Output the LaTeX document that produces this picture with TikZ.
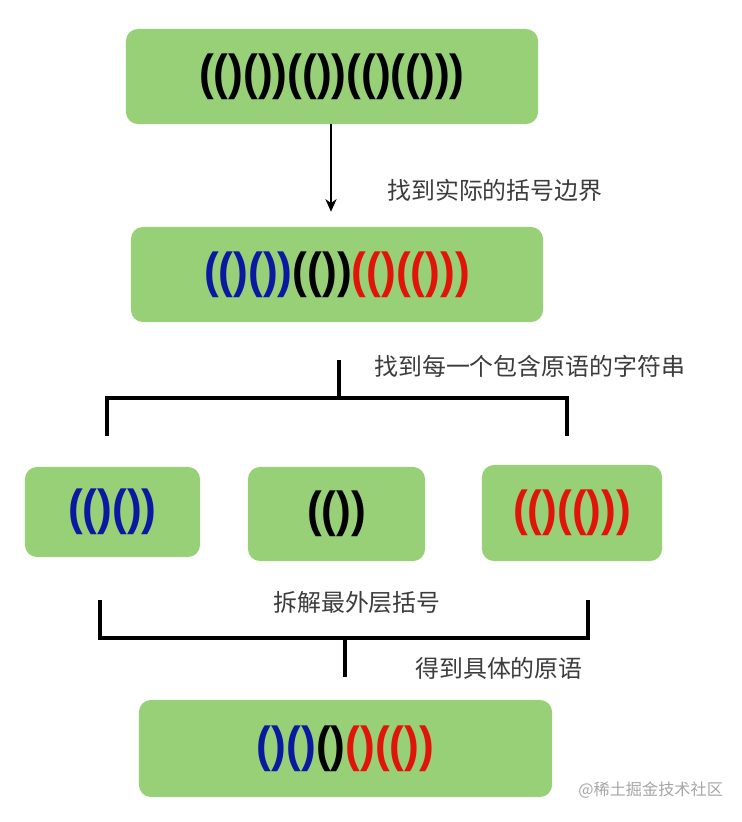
\documentclass[tikz,border=0pt]{standalone}
\usepackage{fontspec}
\usepackage{tikz}
\usetikzlibrary{arrows.meta, positioning, calc}
\newfontfamily\parenfont[FakeStretch=0.9]{Liberation Sans}
\newfontfamily\cjk{Noto Sans CJK SC}
\definecolor{BoxGreen}{HTML}{97D077}
\definecolor{ParenBlue}{RGB}{10, 25, 160}
\definecolor{ParenRed}{RGB}{225, 20, 10}
\definecolor{NoteGray}{RGB}{60, 60, 60}
\newcommand{\bl}[1]{\textcolor{ParenBlue}{#1}}
\newcommand{\rd}[1]{\textcolor{ParenRed}{#1}}

\begin{document}
\begin{tikzpicture}[
    x=0.025cm, y=-0.025cm,
    box/.style={rectangle, rounded corners=0.3cm, fill=BoxGreen, draw=none,
                inner sep=0pt, align=center,
                font=\parenfont\bfseries\fontsize{35}{38}\selectfont},
    note/.style={anchor=west, inner sep=0pt, text=NoteGray,
                 font=\cjk\fontsize{17}{20}\selectfont},
    arrow/.style={-{Stealth[length=9pt, width=8pt]}, line width=1.1pt},
    bracket/.style={line width=2.2pt}
]
\useasboundingbox (0,0) rectangle (742,822);

% Whole string
\node[box, minimum width=10.3cm, minimum height=2.375cm] (whole) at (332,76.5) {(()())(())(()(()))};

% Marked boundaries
\node[box, minimum width=10.3cm, minimum height=2.375cm] (marked) at (337,274.5)
    {\bl{(()())}(())\rd{(()(()))}};

% Split parts
\node[box, minimum width=4.375cm, minimum height=2.25cm] (partA) at (112.5,512) {\bl{(()())}};
\node[box, minimum width=4.425cm, minimum height=2.35cm] (partB) at (336.5,514) {(())};
\node[box, minimum width=4.5cm, minimum height=2.4cm] (partC) at (572,513) {\rd{(()(()))}};

% Primitives
\node[box, minimum width=10.325cm, minimum height=2.425cm] (prims) at (345.5,748.5)
    {\bl{()()}()\rd{()(())}};

% Step labels
\node[note] (step1) at (387,190) {找到实际的括号边界};
\node[note] (step2) at (374,366) {找到每一个包含原语的字符串};
\node[note, anchor=center] (step3) at (357,603) {拆解最外层括号};
\node[note] (step4) at (415,668) {得到具体的原语};
\node[anchor=west, inner sep=0pt, text=black!35, font=\cjk\fontsize{11.5}{13}\selectfont]
    (mark) at (578,790) {@稀土掘金技术社区};

% Bracket points
\coordinate (s1top) at (339,360);
\coordinate (s1) at (339,398);
\coordinate (s1l) at (107,436);
\coordinate (s1r) at (567,436);
\coordinate (s2l) at (100,600);
\coordinate (s2r) at (588,600);
\coordinate (s2) at (345,638);
\coordinate (s2bot) at (345,677);

% Arrows
\draw[arrow, shorten >=0.375cm] (whole.south -| 331,0) -- (marked.north -| 331,0);
\draw[bracket] (s1top) -- (s1);
\draw[bracket] (s1l) -- (s1l |- s1) -- (s1r |- s1) -- (s1r);
\draw[bracket] (s2l) -- (s2l |- s2) -- (s2r |- s2) -- (s2r);
\draw[bracket] (s2) -- (s2bot);

\end{tikzpicture}
\end{document}
